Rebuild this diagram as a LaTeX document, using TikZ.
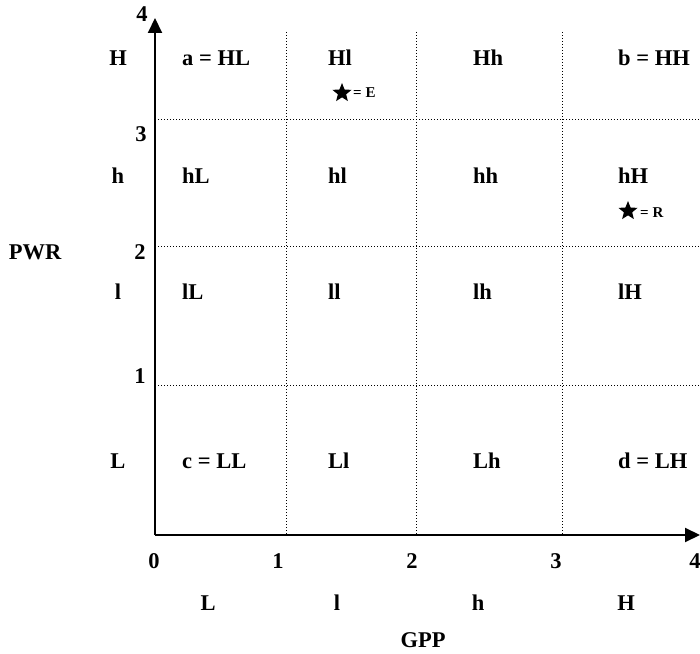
\documentclass[tikz,border=0pt]{standalone}
\usepackage{fontspec}
\setmainfont{Liberation Serif}
\usetikzlibrary{arrows.meta,shapes.geometric}
\begin{document}
\begin{tikzpicture}[x=1pt,y=1pt,
  lbl/.style={font=\fontsize{22.5}{26}\selectfont\bfseries, inner sep=0pt, anchor=base},
  cell/.style={font=\fontsize{22.5}{26}\selectfont\bfseries, inner sep=0pt, anchor=base west},
  small/.style={font=\fontsize{15}{17}\selectfont\bfseries, inner sep=0pt, anchor=base west},
  grid/.style={line width=1pt, dotted},
  axis/.style={line width=2pt, -{Triangle[length=15pt,width=14pt]}},
  starmark/.style={star, star points=5, star point ratio=2.3, fill=black, minimum size=20pt, inner sep=0pt}]
\useasboundingbox (0,0) rectangle (700,653);
% axes coordinates
\coordinate (O) at (155,118);
\coordinate (xend) at (700,118);
\coordinate (yend) at (155,635);
% grid lines
\coordinate (v1t) at (286,621); \coordinate (v1b) at (286,118);
\coordinate (v2t) at (416,621); \coordinate (v2b) at (416,118);
\coordinate (v3t) at (562,621); \coordinate (v3b) at (562,118);
\coordinate (h1l) at (155,533); \coordinate (h1r) at (700,533);
\coordinate (h2l) at (155,406); \coordinate (h2r) at (700,406);
\coordinate (h3l) at (155,267); \coordinate (h3r) at (700,267);
\draw[grid] (v1t) -- (v1b);
\draw[grid] (v2t) -- (v2b);
\draw[grid] (v3t) -- (v3b);
\draw[grid] (h1l) -- (h1r);
\draw[grid] (h2l) -- (h2r);
\draw[grid] (h3l) -- (h3r);
\draw[axis] (O) -- (xend);
\draw[axis] (O) -- (yend);
% y tick labels
\node[lbl] (y4) at (142,631) {4};
\node[lbl] (y3) at (141,511) {3};
\node[lbl] (y2) at (140,393) {2};
\node[lbl] (y1) at (140,269) {1};
% x tick labels
\node[lbl] (x0) at (154,85) {0};
\node[lbl] (x1) at (278,85) {1};
\node[lbl] (x2) at (412,85) {2};
\node[lbl] (x3) at (556,85) {3};
\node[lbl] (x4) at (695,85) {4};
% x category labels
\node[lbl] (gL) at (208,43) {L};
\node[lbl] (gl) at (337,43) {l};
\node[lbl] (gh) at (478,43) {h};
\node[lbl] (gH) at (626,43) {H};
\node[lbl] (gpp) at (423,6) {GPP};
% y category labels
\node[lbl] (pH) at (118,587) {H};
\node[lbl] (ph) at (118,469) {h};
\node[lbl] (pl) at (118,353) {l};
\node[lbl] (pL) at (118,185) {L};
\node[lbl] (pwr) at (35,393) {PWR};
% cells
\node[cell] (cHL) at (182,587) {a = HL};
\node[cell] (cHl) at (328,587) {Hl};
\node[cell] (cHh) at (473,587) {Hh};
\node[cell] (cHH) at (618,587) {b = HH};
\node[cell] (chL) at (182,469) {hL};
\node[cell] (chl) at (328,469) {hl};
\node[cell] (chh) at (473,469) {hh};
\node[cell] (chH) at (618,469) {hH};
\node[cell] (clL) at (182,353) {lL};
\node[cell] (cll) at (328,353) {ll};
\node[cell] (clh) at (473,353) {lh};
\node[cell] (clH) at (618,353) {lH};
\node[cell] (cLL) at (182,185) {c = LL};
\node[cell] (cLl) at (328,185) {Ll};
\node[cell] (cLh) at (473,185) {Lh};
\node[cell] (cLH) at (618,185) {d = LH};
% stars
\node[starmark] (starE) at (342,560) {};
\node[small] (lblE) at (353,555) {= E};
\node[starmark] (starR) at (628,442) {};
\node[small] (lblR) at (640,435) {= R};
\end{tikzpicture}
\end{document}
